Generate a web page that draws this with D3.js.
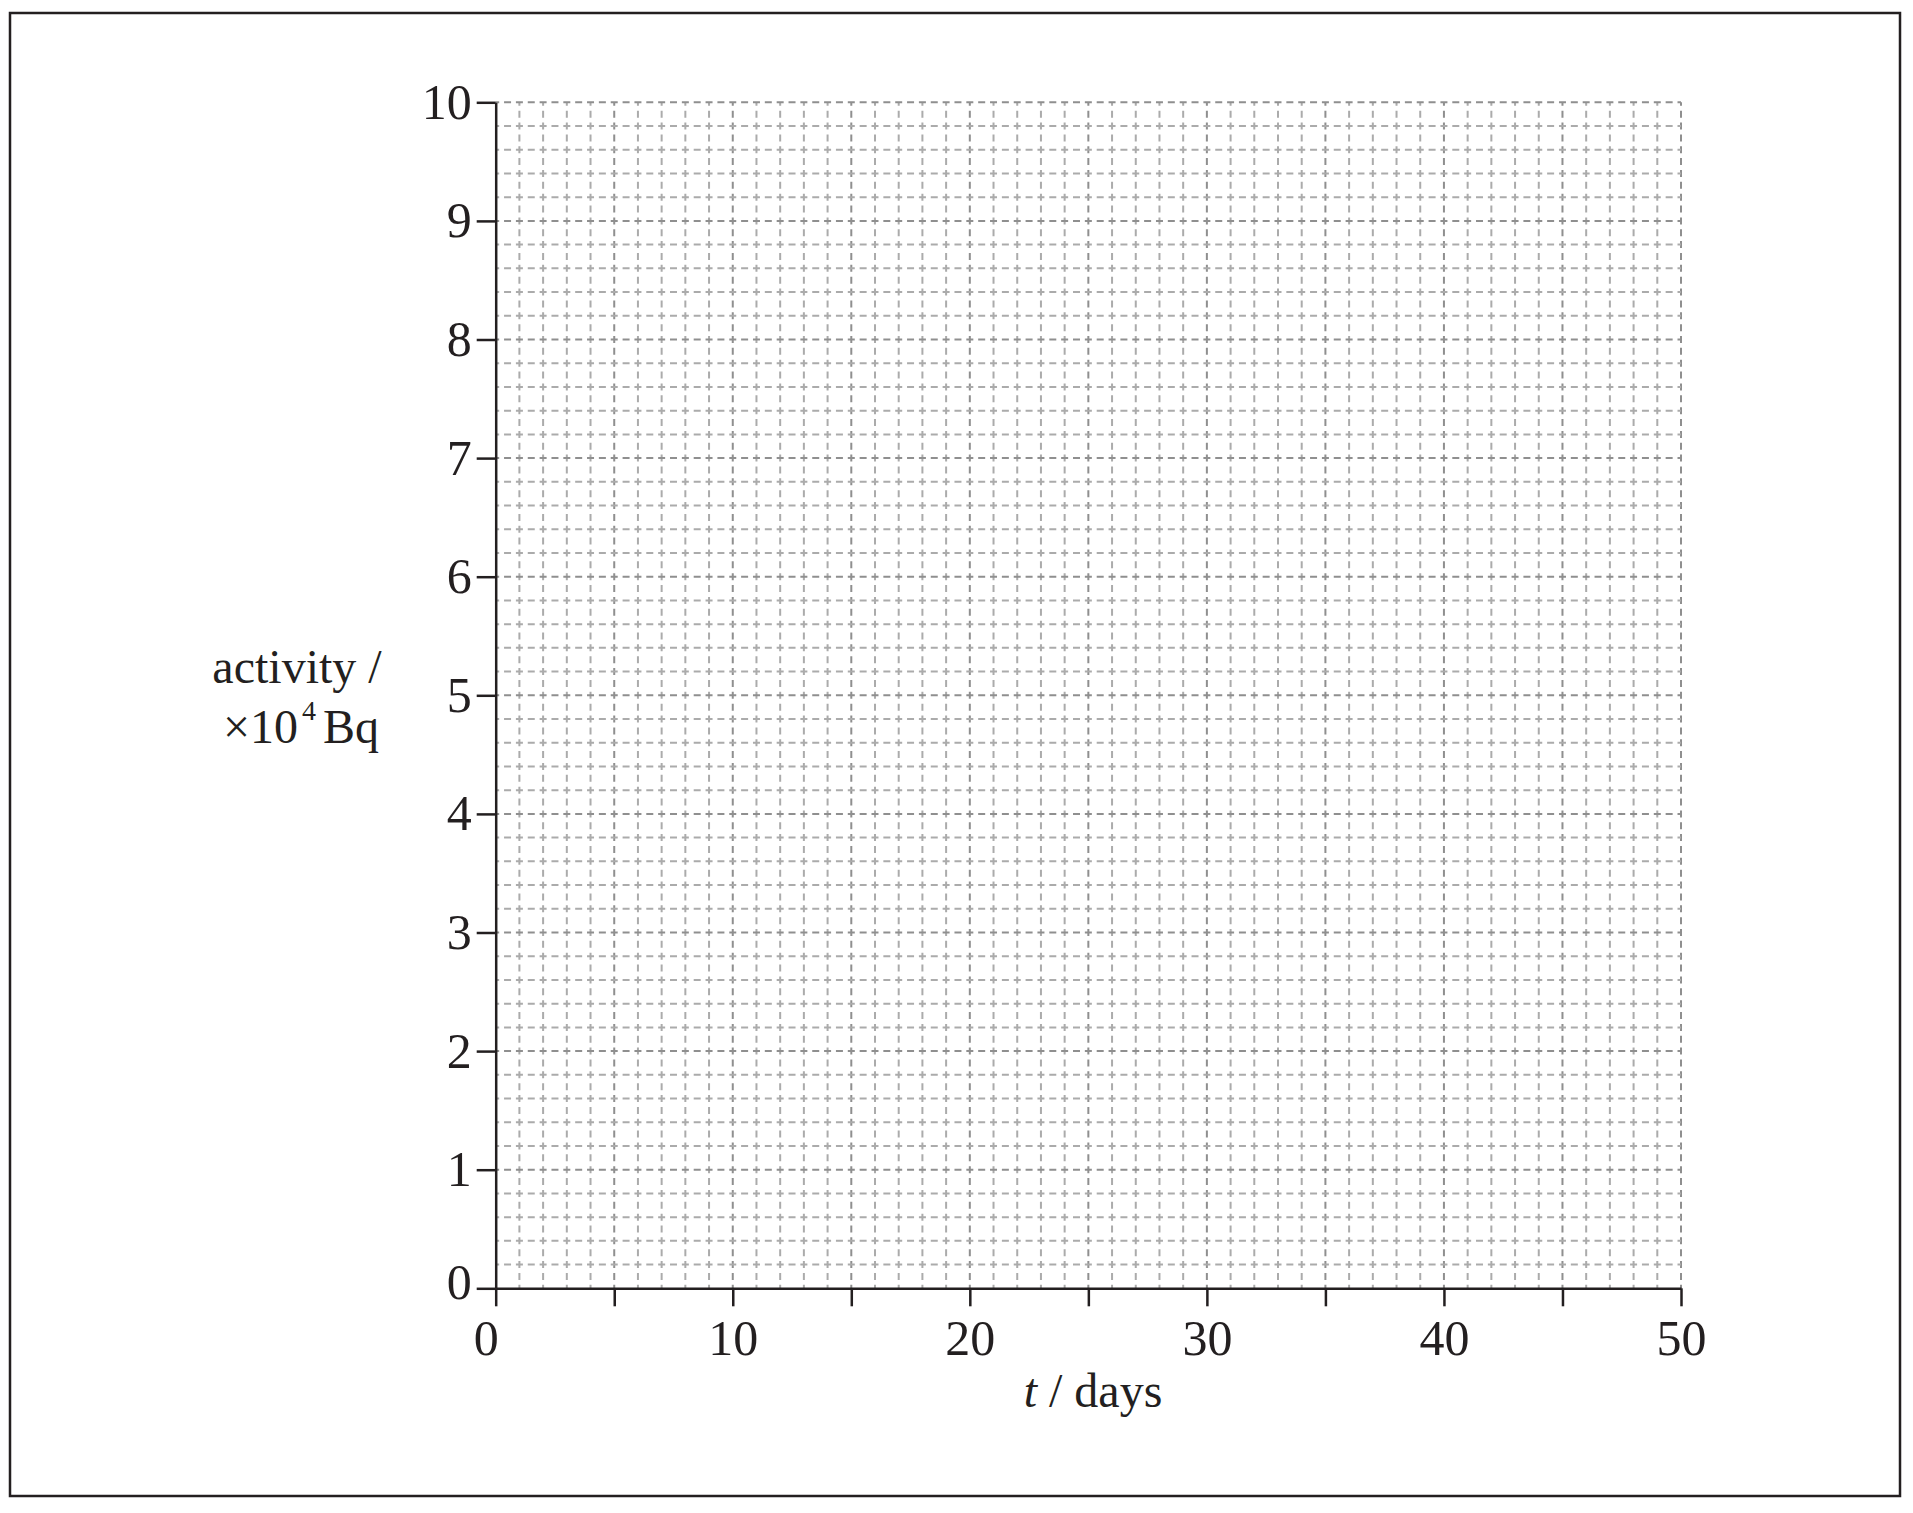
<!DOCTYPE html>
<html>
<head>
<meta charset="utf-8">
<script src="https://cdn.jsdelivr.net/npm/d3@7"></script>
<style>
  body { margin: 0; background: #fff; }
  svg { display: block; }
</style>
</head>
<body>
<svg class="chart"></svg>
<script>
// empty grid for plotting activity against time
var tDomain = [0, 50];            // days
var activityDomain = [0, 10];     // x10^4 Bq
var tTicks = [0, 5, 10, 15, 20, 25, 30, 35, 40, 45, 50];
var tLabels = [0, 10, 20, 30, 40, 50];
var activityTicks = [0, 1, 2, 3, 4, 5, 6, 7, 8, 9, 10];

var ink = "#231f20";
var font = "'Liberation Serif', 'Times New Roman', serif";

var canvas = d3.select(".chart")
  .attr("width", 1913)
  .attr("height", 1513);

canvas.append("rect")
  .attr("width", 1913).attr("height", 1513)
  .attr("fill", "#fff");

// outer frame
canvas.append("rect")
  .attr("x", 10).attr("y", 13)
  .attr("width", 1890).attr("height", 1483)
  .attr("fill", "none")
  .attr("stroke", ink)
  .attr("stroke-width", 2.5);

var x = d3.scaleLinear().domain(tDomain).range([495.7, 1681]);
var y = d3.scaleLinear().domain(activityDomain).range([1288.3, 102.3]);

var grid = canvas.append("g");
var isMajor = d => Math.abs(d - Math.round(d)) < 1e-6;

// vertical grid (every day), dash centred on each crossing and mid-cell
var cellY = y(0) - y(0.2);
grid.selectAll("line.v")
  .data(x.ticks(50).filter(d => d > 0))
  .enter()
    .append("line")
      .attr("class", "v")
      .attr("x1", d => x(d)).attr("x2", d => x(d))
      .attr("y1", y(10)).attr("y2", y(0))
      .attr("stroke", d => d % 5 === 0 ? "#8f8f8f" : "#ababab")
      .attr("stroke-width", 2)
      .attr("stroke-dasharray", [7, cellY / 2 - 7].join(","))
      .attr("stroke-dashoffset", 3.5);

// horizontal grid (every 0.2)
var cellX = x(1) - x(0);
grid.selectAll("line.h")
  .data(y.ticks(50).filter(d => d > 0))
  .enter()
    .append("line")
      .attr("class", "h")
      .attr("x1", x(0)).attr("x2", x(50))
      .attr("y1", d => y(d)).attr("y2", d => y(d))
      .attr("stroke", d => isMajor(d) ? "#8f8f8f" : "#ababab")
      .attr("stroke-width", 2)
      .attr("stroke-dasharray", [7, cellX / 2 - 7].join(","))
      .attr("stroke-dashoffset", 3.5);

// axes
var xAxis = d3.axisBottom(x)
  .tickValues(tTicks)
  .tickSize(18)
  .tickSizeOuter(0)
  .tickPadding(13)
  .tickFormat(d => tLabels.indexOf(d) >= 0 ? d : "");

var yAxis = d3.axisLeft(y)
  .tickValues(activityTicks)
  .tickSize(19)
  .tickSizeOuter(0)
  .tickPadding(5)
  .tickFormat(d => d);

var gx = canvas.append("g")
  .attr("transform", "translate(0," + y(0) + ")")
  .call(xAxis);
var gy = canvas.append("g")
  .attr("transform", "translate(" + x(0) + ",0)")
  .call(yAxis);

[gx, gy].forEach(g => {
  g.selectAll("path, line").attr("stroke", ink).attr("stroke-width", 2.5);
  g.selectAll("text")
    .attr("fill", ink)
    .style("font-family", font)
    .style("font-size", "50px");
});

// the zeros are nudged off the corner
gx.selectAll(".tick text").filter(d => d === 0).attr("dx", -10);
gy.selectAll(".tick text").filter(d => d === 0).attr("dy", "0.2em");

// axis titles
var yTitle = canvas.append("text")
  .attr("fill", ink)
  .style("font-family", font)
  .style("font-size", "48px");
yTitle.append("tspan")
  .attr("x", 297).attr("y", 683)
  .attr("text-anchor", "middle")
  .text("activity /");
var line2 = canvas.append("text")
  .attr("x", 223).attr("y", 743)
  .attr("fill", ink)
  .style("font-family", font)
  .style("font-size", "48px");
line2.append("tspan").text("×10");
line2.append("tspan")
  .attr("dx", 4).attr("dy", -23)
  .style("font-size", "28px")
  .text("4");
line2.append("tspan")
  .attr("dx", 7).attr("dy", 23)
  .text("Bq");

var xTitle = canvas.append("text")
  .attr("x", 1093).attr("y", 1407)
  .attr("text-anchor", "middle")
  .attr("fill", ink)
  .style("font-family", font)
  .style("font-size", "48px");
xTitle.append("tspan").style("font-style", "italic").text("t");
xTitle.append("tspan").text(" / days");
</script>
</body>
</html>
